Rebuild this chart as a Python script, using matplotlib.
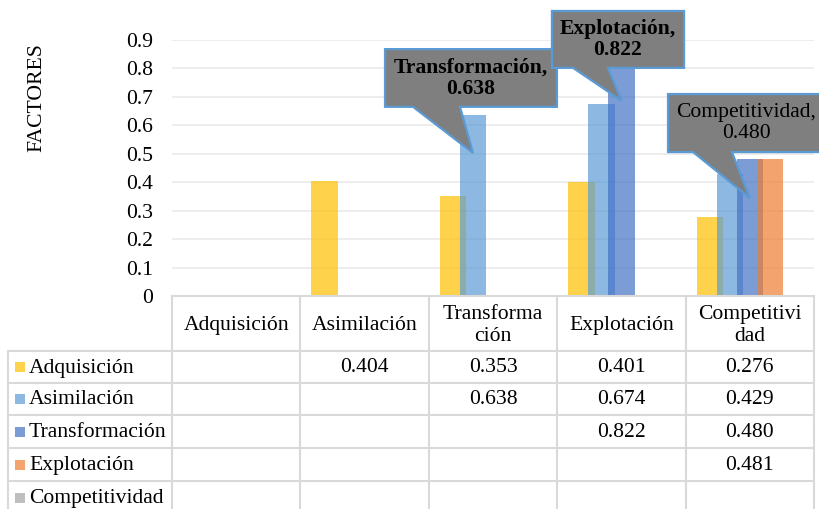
import numpy as np
import matplotlib
matplotlib.use("Agg")
import matplotlib.pyplot as plt
from matplotlib.patches import Polygon, Rectangle

plt.rcParams["font.family"] = ["Liberation Serif", "DejaVu Serif"]

# categories on the x axis and the series (same names)
categories = ["Adquisición", "Asimilación", "Transformación", "Explotación", "Competitividad"]
header_labels = ["Adquisición", "Asimilación", "Transforma\nción", "Explotación", "Competitivi\ndad"]
series_names = ["Adquisición", "Asimilación", "Transformación", "Explotación", "Competitividad"]

nan = np.nan
adquisicion = [nan, 0.404, 0.353, 0.401, 0.276]
asimilacion = [nan, nan, 0.638, 0.674, 0.429]
transformacion = [nan, nan, nan, 0.822, 0.480]
explotacion = [nan, nan, nan, nan, 0.481]
competitividad = [nan, nan, nan, nan, nan]
series_values = [adquisicion, asimilacion, transformacion, explotacion, competitividad]

colors = ["#FFC000", "#5B9BD5", "#4472C4", "#ED7D31", "#A5A5A5"]

W, H = 819, 509
LEFT, RIGHT, ZERO_Y, TOP_Y = 172, 814, 296, 40
FS = 15.6

fig = plt.figure(figsize=(W / 100, H / 100), dpi=100)
ax = fig.add_axes([LEFT / W, 1 - ZERO_Y / H, (RIGHT - LEFT) / W, (ZERO_Y - TOP_Y) / H])

x = np.arange(len(categories))
step, width = 0.156, 0.206
for i, (vals, col) in enumerate(zip(series_values, colors)):
    ax.bar(x + (i - 2) * step, vals, width, color=col, alpha=0.7, zorder=2)

ax.set_xlim(-0.5, len(categories) - 0.5)
ax.set_ylim(0, 0.9)
ax.set_yticks(np.arange(0, 0.91, 0.1))
ax.set_yticklabels(["0"] + [f"{v:.1f}" for v in np.arange(0.1, 0.91, 0.1)], fontsize=FS)
ax.tick_params(axis="y", length=0, pad=13.5)
ax.set_xticks([])
ax.grid(axis="y", color="#EAEAEA", lw=1.2, zorder=0)
for s in ["left", "right", "top"]:
    ax.spines[s].set_visible(False)
ax.spines["bottom"].set_color("#D9D9D9")
ax.spines["bottom"].set_linewidth(1.5)

fig.text(37 / W, 1 - 98 / H, "FACTORES", rotation=90, ha="center", va="center", fontsize=FS)


# callout for one bar: box corners and tail base are in data units, the tip sits on the bar
def callout(si, ci, x0, x1, ytop, ybot, xa, xb, bold):
    val = series_values[si][ci]
    tip = (ci + (si - 2) * step, val - 0.135)
    verts = [(x0, ytop), (x1, ytop), (x1, ybot), (xb, ybot), tip, (xa, ybot), (x0, ybot)]
    ax.add_patch(Polygon(verts, closed=True, facecolor="#7F7F7F", edgecolor="#5B9BD5",
                         lw=1.6, zorder=5, clip_on=False))
    ax.text((x0 + x1) / 2, (ytop + ybot) / 2, f"{categories[ci]},\n{val:.3f}",
            ha="center", va="center", fontsize=FS, linespacing=1.1,
            fontweight="bold" if bold else "normal", zorder=6, clip_on=False)


callout(1, 2, 1.159, 2.498, 0.868, 0.665, 1.377, 1.743, True)
callout(2, 3, 2.459, 3.488, 1.002, 0.802, 2.623, 2.896, True)
callout(2, 4, 3.363, 4.578, 0.710, 0.506, 3.558, 3.861, False)

# data table under the plot, drawn in pixel coordinates
tb = fig.add_axes([0, 0, 1, 1], zorder=-1)
tb.set_xlim(0, W)
tb.set_ylim(H, 0)
tb.axis("off")

line_kw = dict(color="#D9D9D9", lw=1.5)
col_w = (RIGHT - LEFT) / len(categories)
col_edges = [LEFT + k * col_w for k in range(len(categories) + 1)]
row_edges = [ZERO_Y, 351, 383, 415, 448, 481, 514]
TAB_LEFT = 8

for xe in col_edges:
    tb.plot([xe, xe], [ZERO_Y, H], **line_kw)
tb.plot([TAB_LEFT, TAB_LEFT], [row_edges[1], H], **line_kw)
for ye in row_edges[1:-1]:
    tb.plot([TAB_LEFT, RIGHT], [ye, ye], **line_kw)

for k, lab in enumerate(header_labels):
    tb.text((col_edges[k] + col_edges[k + 1]) / 2, (row_edges[0] + row_edges[1]) / 2 + 2, lab,
            ha="center", va="center", fontsize=FS, linespacing=1.2)

for r, (name, vals, col) in enumerate(zip(series_names, series_values, colors)):
    yc = (row_edges[r + 1] + row_edges[r + 2]) / 2
    tb.add_patch(Rectangle((15, yc - 5), 10, 10, facecolor=col, alpha=0.7, lw=0))
    tb.text(29, yc + 1, name, ha="left", va="center", fontsize=FS)
    for k, v in enumerate(vals):
        if not np.isnan(v):
            tb.text((col_edges[k] + col_edges[k + 1]) / 2, yc + 1, f"{v:.3f}",
                    ha="center", va="center", fontsize=FS)

fig.savefig("out.png", dpi=100)
